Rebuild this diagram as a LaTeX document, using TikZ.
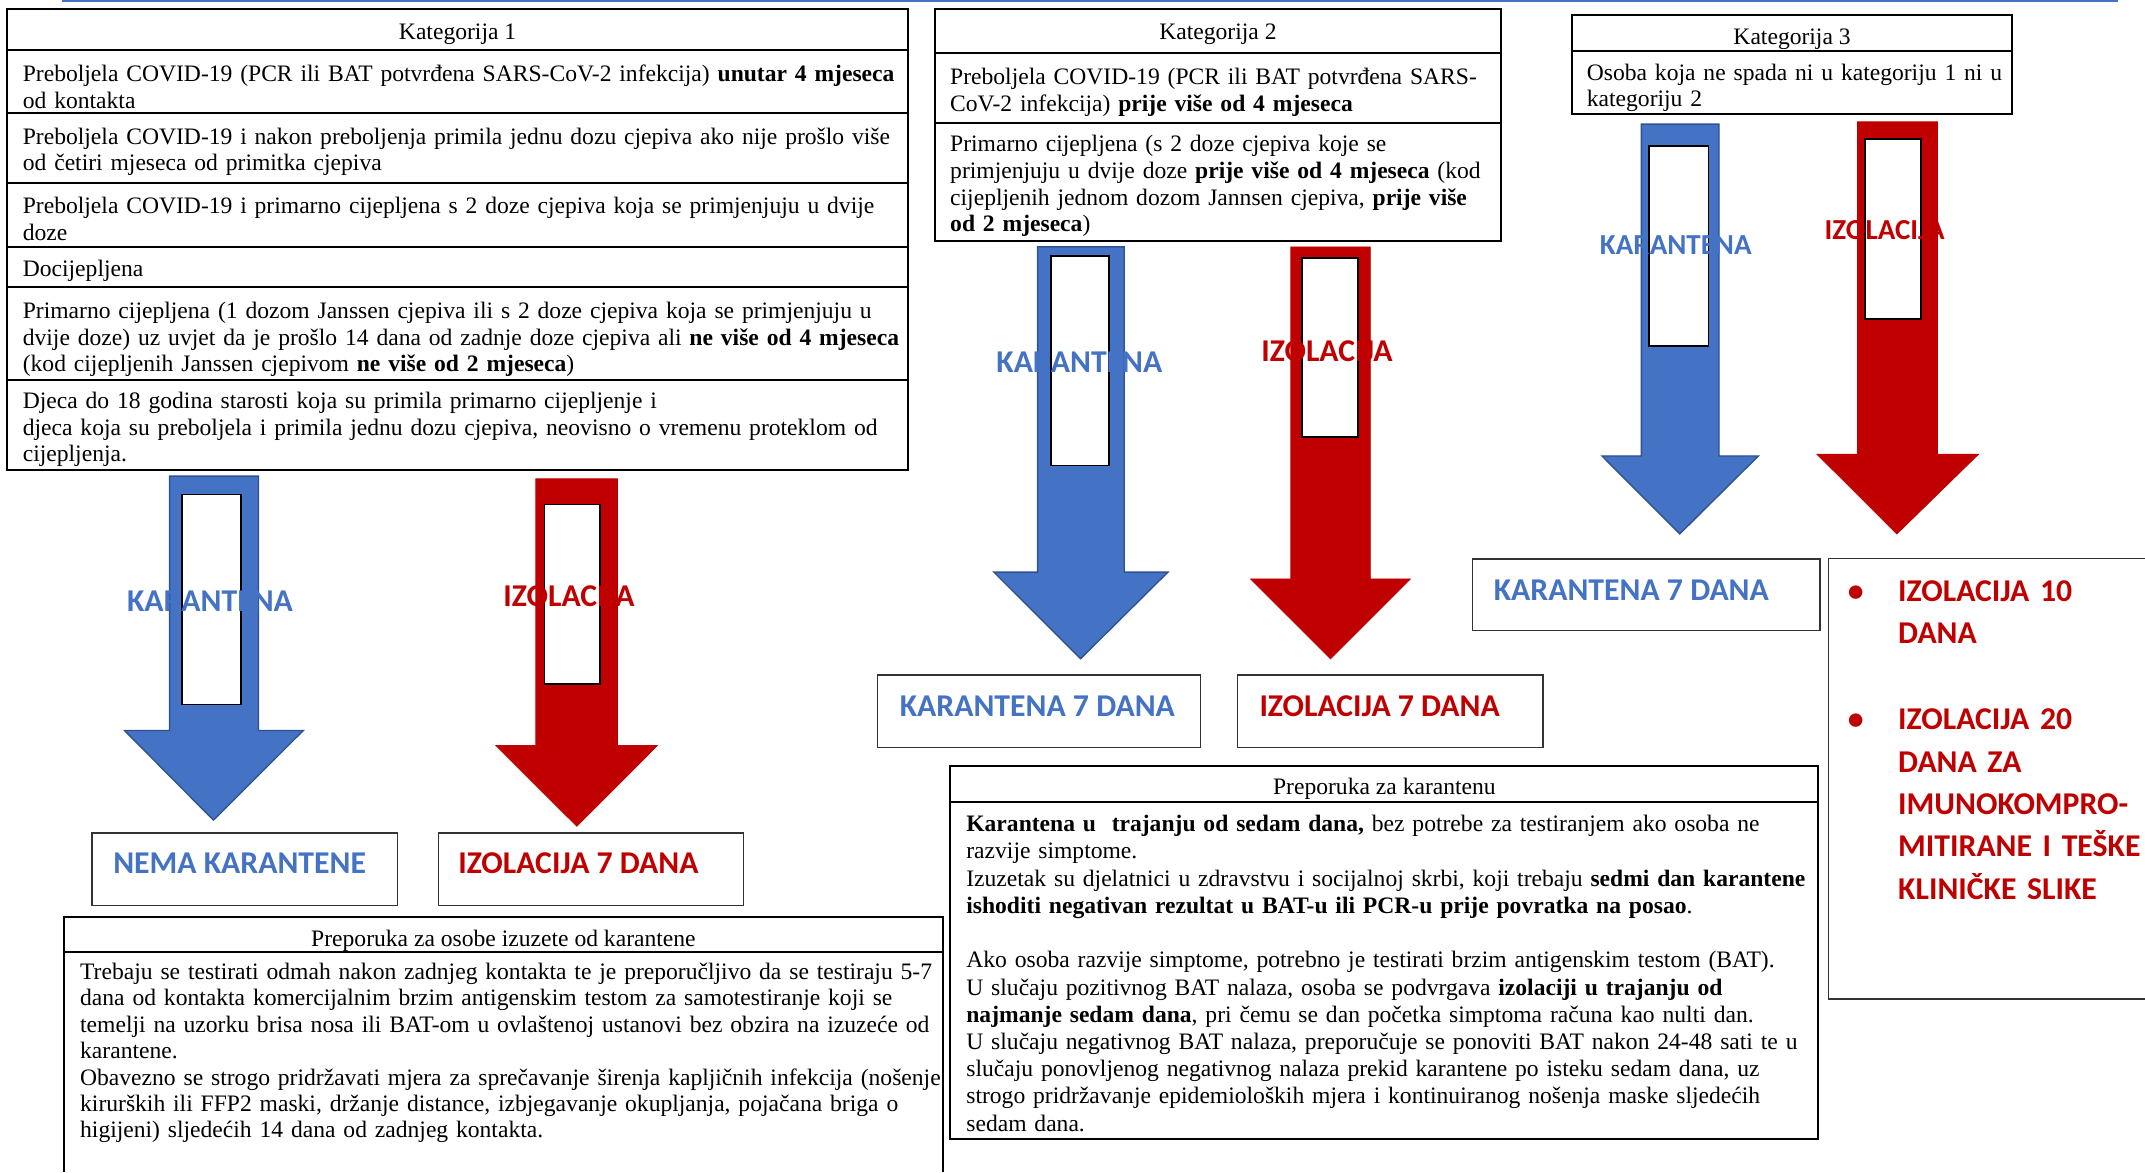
\documentclass[tikz,border=0pt]{standalone}
\usepackage{fontspec}
\setmainfont{Liberation Serif}
\newfontfamily\calfont{Carlito}
\definecolor{kblue}{HTML}{4472C4}
\definecolor{kblueline}{HTML}{2F528F}
\definecolor{kred}{HTML}{C00000}
\tikzset{
  tab/.style={draw=black, line width=0.7pt},
  rbox/.style={draw=black!80, line width=0.5pt},
  inrect/.style={fill=white, draw=black, line width=0.6pt},
  barrow/.style={fill=kblue, draw=kblueline, line width=0.5pt},
  rarrow/.style={fill=kred, draw=kred, line width=0.3pt},
  tx/.style={inner sep=0pt, anchor=base west, align=left, text width=420pt, font=\fontsize{8.62pt}{9.75pt}\selectfont},
  hd/.style={inner sep=0pt, anchor=base, font=\fontsize{8.62pt}{9.75pt}\selectfont},
  lab/.style={inner sep=0pt, anchor=base, font=\calfont\bfseries\fontsize{11.6pt}{13pt}\selectfont},
  labsmall/.style={inner sep=0pt, anchor=base, font=\calfont\bfseries\fontsize{10.6pt}{12pt}\selectfont},
  res/.style={inner sep=0pt, anchor=base west, font=\calfont\bfseries\fontsize{11.6pt}{13pt}\selectfont},
  bultx/.style={inner sep=0pt, anchor=base west, align=left, text width=200pt, text=kred, font=\calfont\bfseries\fontsize{11.6pt}{15.45pt}\selectfont},
}
\begin{document}
\begin{tikzpicture}[x=0.5pt, y=-0.5pt]
\useasboundingbox (0,0) rectangle (1568,857);

% top blue rule
\draw[kblue, line width=1pt] (45,0.8) -- (1548,0.8);

% ---------------- Kategorija 1 table
\draw[tab] (5,6.8) rectangle (664,343.6);
\foreach \yy in {36.5,82.8,133.6,180.4,210,277.8} \draw[tab] (5,\yy) -- (664,\yy);
\node[hd] (c1h) at (334.5,28.8) {Kategorija 1};
\node[tx] (c1a) at (16.3,59.5) {Preboljela COVID-19 (PCR ili BAT potvrđena SARS-CoV-2 infekcija) \textbf{unutar 4 mjeseca}\\od kontakta};
\node[tx] (c1b) at (16.3,105.3) {Preboljela COVID-19 i nakon preboljenja primila jednu dozu cjepiva ako nije prošlo više\\od četiri mjeseca od primitka cjepiva};
\node[tx] (c1c) at (16.3,156) {Preboljela COVID-19 i primarno cijepljena s 2 doze cjepiva koja se primjenjuju u dvije\\doze};
\node[tx] (c1d) at (16.3,202) {Docijepljena};
\node[tx] (c1e) at (16.3,232.7) {Primarno cijepljena (1 dozom Janssen cjepiva ili s 2 doze cjepiva koja se primjenjuju u\\dvije doze) uz uvjet da je prošlo 14 dana od zadnje doze cjepiva ali \textbf{ne više od 4 mjeseca}\\(kod cijepljenih Janssen cjepivom \textbf{ne više od 2 mjeseca})};
\node[tx] (c1f) at (16.3,298.5) {Djeca do 18 godina starosti koja su primila primarno cijepljenje i\\djeca koja su preboljela i primila jednu dozu cjepiva, neovisno o vremenu proteklom od\\cijepljenja.};

% ---------------- Kategorija 2 table
\draw[tab] (683.5,6.8) rectangle (1097,176);
\foreach \yy in {39,89.7} \draw[tab] (683.5,\yy) -- (1097,\yy);
\node[hd] (c2h) at (890.3,28.8) {Kategorija 2};
\node[tx] (c2a) at (694.2,62.1) {Preboljela COVID-19 (PCR ili BAT potvrđena SARS-\\CoV-2 infekcija) \textbf{prije više od 4 mjeseca}};
\node[tx] (c2b) at (694.2,110.9) {Primarno cijepljena (s 2 doze cjepiva koje se\\primjenjuju u dvije doze \textbf{prije više od 4 mjeseca} (kod\\cijepljenih jednom dozom Jannsen cjepiva, \textbf{prije više}\\\textbf{od 2 mjeseca})};

% ---------------- Kategorija 3 table
\draw[tab] (1149,11) rectangle (1471,83.3);
\draw[tab] (1149,37.3) -- (1471,37.3);
\node[hd] (c3h) at (1310,32.4) {Kategorija 3};
\node[tx] (c3a) at (1159.6,58.5) {Osoba koja ne spada ni u kategoriju 1 ni u\\kategoriju 2};

% ---------------- arrows, Kategorija 1
\filldraw[barrow] (124,348) -- (189,348) -- (189,534) -- (221.7,534) -- (156,599.5) -- (91,534) -- (124,534) -- cycle;
\filldraw[inrect] (133,361.6) rectangle (176,515);
\node[lab, text=kblue] (k1) at (153.5,447) {KARANTENA};
\filldraw[rarrow] (391.7,350) -- (451.3,350) -- (451.3,545) -- (480.5,545) -- (421.7,604) -- (362.5,545) -- (391.7,545) -- cycle;
\filldraw[inrect] (398,368.7) rectangle (438.4,500);
\node[lab, text=kred] (i1) at (416,443.5) {IZOLACIJA};

% ---------------- arrows, Kategorija 2
\filldraw[barrow] (758.5,180.5) -- (821.8,180.5) -- (821.8,418.2) -- (853.8,418.2) -- (789.9,481.5) -- (726.5,418.2) -- (758.5,418.2) -- cycle;
\filldraw[inrect] (768.3,187.2) rectangle (810.7,340.4);
\node[lab, text=kblue] (k2) at (789,272) {KARANTENA};
\filldraw[rarrow] (943.6,180.5) -- (1001.7,180.5) -- (1001.7,423.2) -- (1031,423.2) -- (972.6,481.5) -- (914.2,423.2) -- (943.6,423.2) -- cycle;
\filldraw[inrect] (951.8,188.4) rectangle (992.5,319.4);
\node[lab, text=kred] (i2) at (970,264) {IZOLACIJA};

% ---------------- arrows, Kategorija 3
\filldraw[barrow] (1199.8,90.7) -- (1256.6,90.7) -- (1256.6,333.3) -- (1285.4,333.3) -- (1227.9,390.3) -- (1171,333.3) -- (1199.8,333.3) -- cycle;
\filldraw[inrect] (1205.5,106.7) rectangle (1249,252.7);
\node[labsmall, text=kblue] (k3) at (1225,186.4) {KARANTENA};
\filldraw[rarrow] (1357.9,89) -- (1416.3,89) -- (1416.3,332) -- (1446.3,332) -- (1386.6,390.3) -- (1328.2,332) -- (1357.9,332) -- cycle;
\filldraw[inrect] (1363.3,101.6) rectangle (1404.2,233.4);
\node[labsmall, text=kred] (i3) at (1377.7,175.4) {IZOLACIJA};

% ---------------- result boxes
\draw[rbox] (67.3,609) rectangle (290.4,662);
\node[res, text=kblue] (r1) at (82.4,638.4) {NEMA KARANTENE};
\draw[rbox] (320.5,609) rectangle (543.5,662);
\node[res, text=kred] (r2) at (334.6,638.4) {IZOLACIJA 7 DANA};
\draw[rbox] (641.3,493.4) rectangle (877.7,546.3);
\node[res, text=kblue] (r3) at (657.4,523.4) {KARANTENA 7 DANA};
\draw[rbox] (904.7,493.4) rectangle (1128,546.3);
\node[res, text=kred] (r4) at (920.3,523.4) {IZOLACIJA 7 DANA};
\draw[rbox] (1076.5,408.6) rectangle (1330.4,461);
\node[res, text=kblue] (r5) at (1091.6,439.1) {KARANTENA 7 DANA};

% bullet box (open to the right edge)
\draw[rbox] (1568,408.1) -- (1336.5,408.1) -- (1336.5,730.3) -- (1568,730.3);
\node[inner sep=0pt, anchor=base, text=kred, font=\calfont\bfseries\fontsize{11.6pt}{13pt}\selectfont] (bu1) at (1356.5,439.8) {•};
\node[bultx] (bt1) at (1387.2,439.8) {IZOLACIJA 10\\DANA};
\node[inner sep=0pt, anchor=base, text=kred, font=\calfont\bfseries\fontsize{11.6pt}{13pt}\selectfont] (bu2) at (1356.5,533.6) {•};
\node[bultx] (bt2) at (1387.2,533.6) {IZOLACIJA 20\\DANA ZA\\IMUNOKOMPRO-\\MITIRANE I TEŠKE\\KLINIČKE SLIKE};

% ---------------- Preporuka za osobe izuzete od karantene
\draw[tab] (47,857) -- (47,670.6) -- (689.4,670.6) -- (689.4,857);
\draw[tab] (47,695.7) -- (689.4,695.7);
\node[hd] (p1h) at (368,692) {Preporuka za osobe izuzete od karantene};
\node[tx, font=\fontsize{8.62pt}{9.65pt}\selectfont] (p1t) at (58.2,716) {Trebaju se testirati odmah nakon zadnjeg kontakta te je preporučljivo da se testiraju 5-7\\dana od kontakta komercijalnim brzim antigenskim testom za samotestiranje koji se\\temelji na uzorku brisa nosa ili BAT-om u ovlaštenoj ustanovi bez obzira na izuzeće od\\karantene.\\Obavezno se strogo pridržavati mjera za sprečavanje širenja kapljičnih infekcija (nošenje\\\makebox[310.5pt][s]{kirurških ili FFP2 maski, držanje distance, izbjegavanje okupljanja, pojačana briga o}\\higijeni) sljedećih 14 dana od zadnjeg kontakta.};

% ---------------- Preporuka za karantenu
\draw[tab] (694.7,560) rectangle (1329.2,832.8);
\draw[tab] (694.7,586) -- (1329.2,586);
\node[hd] (p2h) at (1012,581.1) {Preporuka za karantenu};
\node[tx, font=\fontsize{8.62pt}{9.95pt}\selectfont] (p2t) at (706,608) {\textbf{Karantena u\ \ trajanju od sedam dana,} bez potrebe za testiranjem ako osoba ne\\razvije simptome.\\Izuzetak su djelatnici u zdravstvu i socijalnoj skrbi, koji trebaju \textbf{sedmi dan karantene}\\\textbf{ishoditi negativan rezultat u BAT-u ili PCR-u prije povratka na posao}.\\[9.95pt]Ako osoba razvije simptome, potrebno je testirati brzim antigenskim testom (BAT).\\\makebox[295.9pt][s]{U slučaju pozitivnog BAT nalaza, osoba se podvrgava \textbf{izolaciji u trajanju od}}\\\textbf{najmanje sedam dana}, pri čemu se dan početka simptoma računa kao nulti dan.\\U slučaju negativnog BAT nalaza, preporučuje se ponoviti BAT nakon 24-48 sati te u\\slučaju ponovljenog negativnog nalaza prekid karantene po isteku sedam dana, uz\\strogo pridržavanje epidemioloških mjera i kontinuiranog nošenja maske sljedećih\\sedam dana.};
\end{tikzpicture}
\end{document}
